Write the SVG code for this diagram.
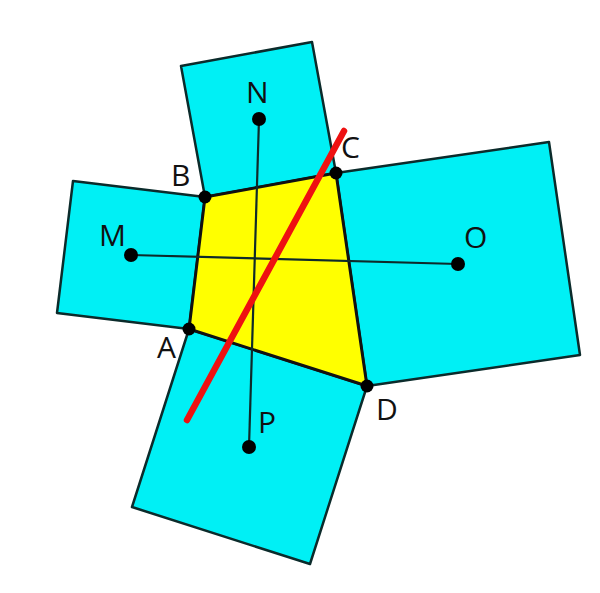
<svg xmlns="http://www.w3.org/2000/svg" width="600" height="593" viewBox="0 0 600 593">
<style>
.sq{fill:#00f0f5;stroke:#0b2b2b;stroke-width:2.5;stroke-linejoin:round}
.quad{fill:#ffff00;stroke:#111;stroke-width:3;stroke-linejoin:round}
.ln{stroke:#0e2a2a;stroke-width:2.2;fill:none}
.red{stroke:#ee1111;stroke-width:6.5;stroke-linecap:round;fill:none}
.dot{fill:#000}
.lbl{font-family:"Open Sans","Noto Sans",sans-serif;font-size:30px;fill:#111}
</style>
<rect width="600" height="593" fill="#fff"/>
<g id="squares">
<polygon id="sqM" class="sq" points="189,329 205,197 73,181 57,313"/>
<polygon id="sqN" class="sq" points="205,197 336,173 312,42 181,66"/>
<polygon id="sqO" class="sq" points="336,173 367,386 580,355 549,142"/>
<polygon id="sqP" class="sq" points="367,386 189,329 132,507 310,564"/>
</g>
<g id="quad">
<polygon class="quad" points="189,329 205,197 336,173 367,386"/>
</g>
<g id="connectors">
<line class="ln" x1="131" y1="255" x2="458" y2="264"/>
<line class="ln" x1="259" y1="119" x2="249" y2="447"/>
<line class="red" x1="187" y1="420" x2="344" y2="131"/>
</g>
<g id="points">
<g id="A"><circle class="dot" cx="189" cy="329" r="6.5"/><text class="lbl" x="157" y="358">A</text></g>
<g id="B"><circle class="dot" cx="205" cy="197" r="6.5"/><text class="lbl" x="171" y="186">B</text></g>
<g id="C"><circle class="dot" cx="336" cy="173" r="6.5"/><text class="lbl" x="341" y="158">C</text></g>
<g id="D"><circle class="dot" cx="367" cy="386" r="6.5"/><text class="lbl" x="376" y="420">D</text></g>
<g id="M"><circle class="dot" cx="131" cy="255" r="7"/><text class="lbl" x="99" y="246">M</text></g>
<g id="N"><circle class="dot" cx="259" cy="119" r="7"/><text class="lbl" x="246" y="103">N</text></g>
<g id="O"><circle class="dot" cx="458" cy="264" r="7"/><text class="lbl" x="464" y="248">O</text></g>
<g id="P"><circle class="dot" cx="249" cy="447" r="7"/><text class="lbl" x="258" y="433">P</text></g>
</g>
</svg>
